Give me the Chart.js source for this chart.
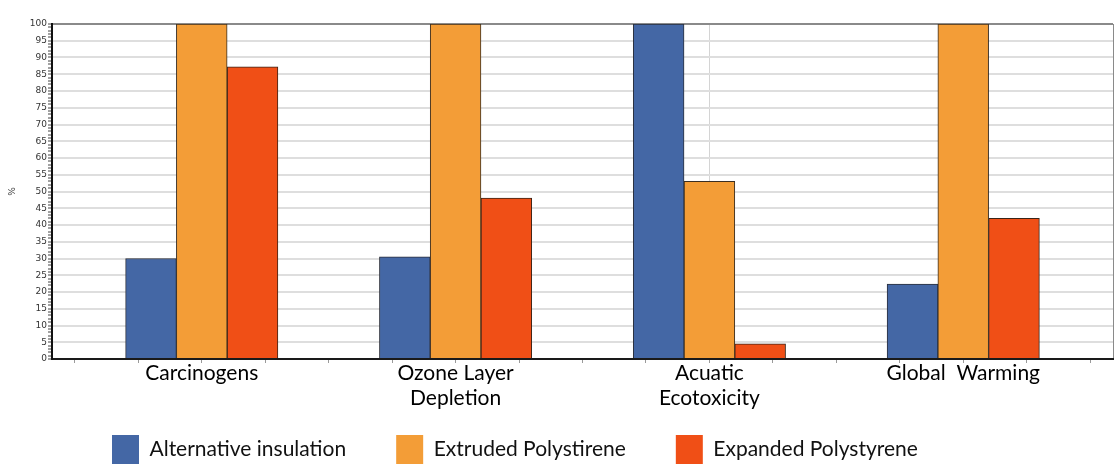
<!DOCTYPE html>
<html>
<head>
<meta charset="utf-8">
<title>Environmental impact comparison</title>
<script src="https://cdn.jsdelivr.net/npm/chart.js@4/dist/chart.umd.min.js"></script>
<style>
  html, body { margin: 0; padding: 0; background: #ffffff; }
  #wrap { width: 1115px; height: 466px; position: relative; }
</style>
</head>
<body>
<div id="wrap"><canvas id="chart"></canvas></div>
<script>
// Impact categories (multi-line labels as arrays)
const categories = ['Carcinogens', ['Ozone Layer', 'Depletion'], ['Acuatic', 'Ecotoxicity'], 'Global  Warming'];

// Relative impact, % of the worst material in each category
const alternativeInsulation = [30, 30.5, 100, 22.4];
const extrudedPolystirene   = [100, 100, 53, 100];
const expandedPolystyrene   = [87.2, 48, 4.5, 42];

const seriesNames = ['Alternative insulation', 'Extruded Polystirene', 'Expanded Polystyrene'];

// Y axis: 0..100 labelled every 5, small ruler marks every 1
const yMin = 0, yMax = 100, yLabelStep = 5, yMinorStep = 1;

// X axis extent around the category slots, minor marks every quarter slot
const xPad = 0.09;
const xMin = -0.5 - xPad;
const xMax = categories.length - 0.5 + xPad;
const xMinorStep = 0.25;

const toPoints = vals => vals.map((v, i) => ({ x: i, y: v }));

// Legend row placement: left indent of the first swatch, gap below the plot
const legendIndent = 112;
const legendGap = 76;
const legendSwatch = { w: 27, h: 29 };

const legendPlacement = {
  id: 'legendPlacement',
  afterLayout(chart) {
    const lg = chart.legend;
    if (!lg) return;
    const pad = lg.options.labels.padding;
    lg.left = legendIndent - pad;
    lg.top = chart.chartArea.bottom + legendGap - pad;
    lg.bottom = lg.top + pad + legendSwatch.h + 20;
  }
};

const ctx = document.getElementById('chart');
new Chart(ctx, {
  type: 'bar',
  data: {
    datasets: [
      { label: seriesNames[0], data: toPoints(alternativeInsulation), backgroundColor: '#4467a5', borderColor: '#2b2f3a', borderWidth: 1 },
      { label: seriesNames[1], data: toPoints(extrudedPolystirene),   backgroundColor: '#f39d37', borderColor: '#3a2e22', borderWidth: 1 },
      { label: seriesNames[2], data: toPoints(expandedPolystyrene),   backgroundColor: '#f04f16', borderColor: '#3a2418', borderWidth: 1 }
    ]
  },
  options: {
    responsive: true,
    maintainAspectRatio: false,
    animation: false,
    datasets: { bar: { barThickness: 'flex', categoryPercentage: 0.6, barPercentage: 1 } },
    layout: { padding: { top: 24, right: 2, left: 0, bottom: 0 } },
    scales: {
      // category axis: one tick per category, carries the labels and the single vertical guide
      x: {
        type: 'linear',
        offset: false,
        min: xMin,
        max: xMax,
        afterBuildTicks(scale) {
          scale.ticks = categories.map((c, i) => ({ value: i }));
        },
        afterFit(scale) { scale.height = 56; },
        ticks: {
          autoSkip: false,
          maxRotation: 0,
          minRotation: 0,
          padding: 0,
          color: '#000000',
          font: { family: 'Lato', size: 21, lineHeight: 1.18 },
          callback(value) { return categories[value]; }
        },
        grid: {
          offset: false,
          tickLength: 2,
          lineWidth: 1,
          color(c) { return c.tick && c.tick.value === 2 ? '#d4d4d4' : 'transparent'; },
          tickColor: 'transparent'
        },
        border: { display: true, color: '#1a1a1a', width: 2 }
      },
      // minor marks under the axis and the right frame line
      x2: {
        type: 'linear',
        position: 'bottom',
        weight: -1,
        offset: false,
        min: xMin,
        max: xMax,
        afterBuildTicks(scale) {
          const t = [];
          for (let v = -0.5; v <= categories.length - 0.5 + 1e-9; v += xMinorStep) t.push({ value: v });
          t.push({ value: xMax });
          scale.ticks = t;
        },
        afterFit(scale) { scale.height = 0; },
        ticks: { display: false, autoSkip: false },
        grid: {
          offset: false,
          tickLength: 4,
          lineWidth: 1,
          color(c) { return c.tick && c.tick.value === xMax ? '#8a8a8a' : 'transparent'; },
          tickColor(c) { return c.tick && c.tick.value === xMax ? 'transparent' : '#9a9a9a'; }
        },
        border: { display: false }
      },
      y: {
        min: yMin,
        max: yMax,
        afterBuildTicks(scale) {
          const t = [];
          for (let v = yMin; v <= yMax; v += yMinorStep) t.push({ value: v });
          scale.ticks = t;
        },
        afterFit(scale) { scale.width = 52; },
        ticks: {
          autoSkip: false,
          padding: 1,
          color: '#333333',
          font: { family: 'DejaVu Sans', size: 9 },
          callback(value) { return value % yLabelStep === 0 ? String(value) : ''; }
        },
        grid: {
          tickLength: 4,
          lineWidth(c) { return c.tick && c.tick.value % yLabelStep === 0 ? 2 : 0; },
          color(c) {
            if (!c.tick) return 'transparent';
            if (c.tick.value === yMax) return '#8a8a8a';
            if (c.tick.value % yLabelStep === 0) return '#dedede';
            return 'transparent';
          },
          tickColor: '#444444',
          tickWidth: 1
        },
        border: { display: true, color: '#111111', width: 2 },
        title: {
          display: true,
          text: '%',
          color: '#444444',
          font: { family: 'DejaVu Sans', size: 9 },
          padding: { top: 7, bottom: 4 }
        }
      }
    },
    plugins: {
      legend: {
        position: 'bottom',
        align: 'start',
        maxHeight: 51,
        labels: {
          boxWidth: legendSwatch.w,
          boxHeight: legendSwatch.h,
          padding: 50,
          color: '#111111',
          font: { family: 'Lato', size: 21 },
          generateLabels(chart) {
            return Chart.defaults.plugins.legend.labels.generateLabels(chart)
              .map(item => Object.assign(item, { lineWidth: 0, strokeStyle: 'transparent' }));
          }
        }
      },
      tooltip: { enabled: false }
    }
  },
  plugins: [legendPlacement]
});
</script>
</body>
</html>
